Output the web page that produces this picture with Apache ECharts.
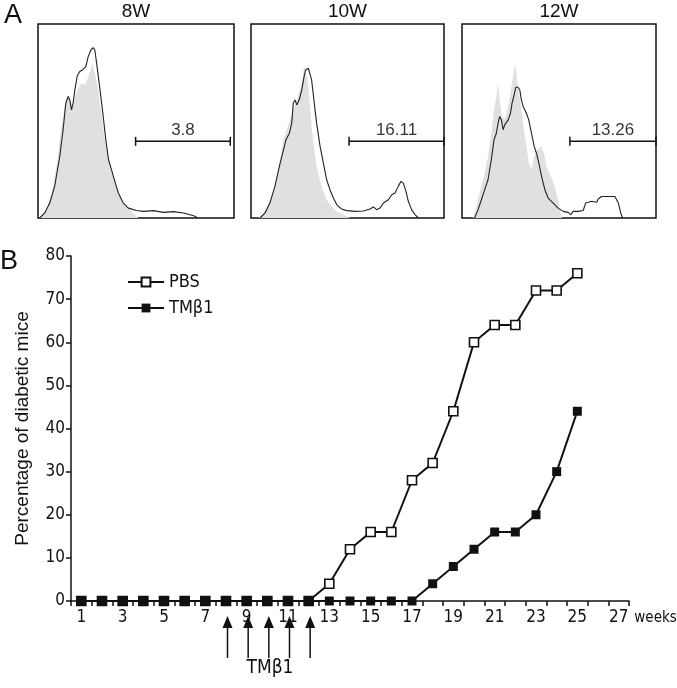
<!DOCTYPE html>
<html><head><meta charset="utf-8">
<script src="https://cdn.jsdelivr.net/npm/echarts@6/dist/echarts.min.js"></script>
<style>html,body{margin:0;padding:0;background:#fff}#c{width:677px;height:688px}</style>
</head><body><div id="c"></div>
<script>
// ---------- Panel B data ----------
const weeks = ['1','2','3','4','5','6','7','8','9','10','11','12','13','14','15','16','17','18','19','20','21','22','23','24','25','26','27'];
const pbs  = [0,0,0,0,0,0,0,0,0,0,0,0,4,12,16,16,28,32,44,60,64,64,72,72,76];
const tmb1 = [0,0,0,0,0,0,0,0,0,0,0,0,0,0,0,0,0,4,8,12,16,16,20,30,44];
const treatmentWeeks = ['8','9','10','11','12'];
const seriesNames = ['PBS','TMβ1'];

// ---------- Panel A data (relative intensity %, relative count %) ----------
const panelTitles = ['8W','10W','12W'];
const gateLabels = ['3.8','16.11','13.26'];
const gateStart = [49.8, 50.8, 55.6];
const gateEnd = [98.1, 100, 100];
const gateLevel = [39.5, 39.5, 39.5];

const hist8wSample = [[0.9,0],[3.4,2.6],[6.0,7.7],[8.5,16.3],[11.1,31.7],[12.8,45.5],[14.2,59.2],[15.4,62.6],[16.2,60.9],[17.1,55.7],[17.9,59.2],[18.8,66.0],[20.0,73.2],[21.3,75.5],[22.7,76.3],[23.5,75.5],[24.4,78.0],[25.6,83.2],[27.0,86.6],[28.2,87.8],[29.0,86.6],[29.9,79.8],[31.2,69.5],[32.9,55.7],[34.6,40.3],[36.0,30.0],[37.5,24.9],[39.2,18.9],[41.0,12.9],[43.5,7.7],[46.1,5.1],[50.3,3.9],[53.8,3.4],[58.9,3.8],[64.0,2.9],[69.1,3.3],[74.2,2.6],[77.6,1.7],[80.2,0.9],[81.1,0]];
const hist8wControl = [[0.9,0],[4.3,4.3],[7.7,16.3],[10.2,31.7],[11.9,47.2],[12.8,52.3],[14.2,60.9],[15.4,62.6],[16.2,60.0],[17.6,57.5],[18.8,62.6],[20.5,66.9],[22.2,69.5],[23.9,68.6],[25.1,71.2],[26.5,75.5],[27.8,79.8],[29.0,74.6],[30.4,67.8],[32.1,55.7],[33.6,43.7],[35.0,35.2],[36.7,28.3],[38.4,21.4],[40.4,14.6],[42.7,9.4],[45.2,6.0],[47.8,3.4],[49.5,1.7],[51.2,0]];
const hist10wSample = [[4.7,0],[7.3,2.6],[9.8,7.7],[12.4,16.3],[14.7,26.6],[16.4,33.4],[18.1,40.3],[19.9,43.7],[21.1,48.9],[21.9,59.2],[22.8,60.9],[23.7,58.3],[25.0,60.9],[26.3,66.0],[27.5,72.9],[28.3,76.3],[29.7,77.2],[30.6,76.3],[31.4,71.2],[32.6,60.9],[34.0,48.9],[35.8,36.9],[37.5,28.3],[39.2,19.7],[40.9,14.6],[42.7,10.3],[44.4,6.9],[47.0,4.6],[49.6,3.8],[53.9,3.4],[58.2,3.6],[61.7,4.6],[63.4,5.7],[65.1,4.3],[66.8,5.1],[68.6,7.7],[71.2,9.4],[72.9,12.0],[74.6,12.9],[76.3,16.3],[77.7,18.9],[78.9,18.0],[80.3,13.7],[81.5,8.6],[83.2,4.3],[85.0,1.7],[86.7,0]];
const hist10wControl = [[3.8,0],[6.4,2.6],[9.0,7.7],[11.6,14.6],[13.3,21.4],[15.0,30.0],[16.8,40.3],[18.5,45.5],[20.2,50.6],[21.9,55.7],[23.7,60.9],[25.4,66.0],[26.8,72.9],[27.6,78.9],[28.5,78.0],[29.4,71.2],[30.6,57.5],[31.4,47.2],[32.6,36.9],[34.0,26.6],[35.8,18.9],[37.5,13.7],[39.2,9.4],[41.8,6.0],[44.4,3.4],[47.8,1.7],[51.3,0]];
const hist12wSample = [[6.5,0],[8.3,4.3],[10.0,9.4],[11.7,14.6],[13.4,19.7],[15.1,30.0],[16.5,40.3],[17.7,43.7],[18.6,48.9],[19.4,52.3],[20.3,50.6],[21.2,45.5],[22.0,48.0],[22.9,47.2],[23.8,50.6],[25.0,54.0],[25.8,59.2],[26.9,63.5],[27.7,67.4],[28.9,67.4],[29.8,66.0],[30.6,60.9],[31.5,57.5],[32.4,56.6],[33.2,54.0],[34.4,50.6],[35.8,43.7],[37.2,36.9],[38.4,33.4],[39.6,28.3],[41.0,21.4],[42.7,14.6],[44.4,10.3],[47.0,7.7],[49.6,5.1],[52.2,3.4],[54.7,2.9],[56.1,1.7],[57.3,3.4],[59.9,3.4],[62.5,3.9],[63.7,7.7],[66.8,8.6],[69.4,8.1],[70.2,9.8],[71.9,11.1],[75.4,11.1],[78.8,11.1],[80.6,7.7],[81.8,2.6],[82.8,0]];
const hist12wControl = [[5.7,0],[7.4,6.0],[9.1,12.9],[11.7,23.2],[13.4,31.7],[15.1,43.7],[16.5,55.7],[17.7,62.6],[18.6,69.5],[19.4,60.9],[20.3,54.0],[21.7,50.6],[22.9,54.0],[24.1,59.2],[25.5,67.8],[26.5,74.6],[27.4,79.4],[28.2,72.9],[29.3,64.3],[30.6,55.7],[32.0,45.5],[33.2,36.9],[34.4,28.3],[35.8,24.9],[37.2,31.7],[38.9,35.2],[40.6,36.9],[41.5,37.7],[42.3,33.4],[43.5,26.6],[44.9,23.2],[46.5,19.7],[47.8,16.3],[49.1,11.1],[50.1,6.0],[50.9,1.7],[51.6,0]];

const samples = [hist8wSample, hist10wSample, hist12wSample];
const controls = [hist8wControl, hist10wControl, hist12wControl];

// ---------- layout / style ----------
const INK = '#111';
const SANS = "'Liberation Sans', Arial, sans-serif";
const NARROW = "'Liberation Sans Narrow','Arial Narrow','DejaVu Sans Condensed','Liberation Sans',Arial,sans-serif";
const panelBoxes = [
  {left:38, top:24, width:196, height:194},
  {left:251, top:24, width:193, height:194},
  {left:462, top:24, width:194, height:194}
];

const grids = panelBoxes.map(b => ({left:b.left, top:b.top, width:b.width, height:b.height,
  show:true, borderColor:INK, borderWidth:1.5, backgroundColor:'transparent', outerBoundsMode:'none'}));
grids.push({left:71, right:48, top:256, bottom:87, containLabel:false, outerBoundsMode:'none'});

const xAxes = [], yAxes = [], series = [];
panelBoxes.forEach((b, i) => {
  xAxes.push({type:'value', gridIndex:i, min:0, max:100, show:false});
  yAxes.push({type:'value', gridIndex:i, min:0, max:100, show:false});
  series.push({type:'line', xAxisIndex:i, yAxisIndex:i, data:controls[i], symbol:'none',
    lineStyle:{width:0, color:'#e0e0e0'}, areaStyle:{color:'#e0e0e0', opacity:1}, silent:true, z:1});
  series.push({type:'line', xAxisIndex:i, yAxisIndex:i, data:samples[i], symbol:'none',
    lineStyle:{width:1.1, color:'#222'}, silent:true, z:2});
  series.push({type:'line', xAxisIndex:i, yAxisIndex:i, silent:true, z:3,
    symbol:'rect', symbolSize:[1.5,9], itemStyle:{color:INK}, lineStyle:{color:INK, width:1.5},
    data:[[gateStart[i], gateLevel[i]], [gateEnd[i], gateLevel[i]]]});
  series.push({type:'scatter', xAxisIndex:i, yAxisIndex:i, silent:true, z:3, symbolSize:0,
    data:[[(gateStart[i]+gateEnd[i])/2, gateLevel[i]]],
    label:{show:true, position:'top', distance:3, formatter:gateLabels[i], fontSize:17, color:'#000', fontFamily:SANS}});
});

// panel B axes
xAxes.push({type:'category', gridIndex:3, data:weeks, boundaryGap:true,
  axisLine:{lineStyle:{color:INK, width:1.5}},
  axisTick:{show:true, interval:0, length:5, inside:false, lineStyle:{color:INK, width:1.5}},
  axisLabel:{interval:1, margin:8, fontSize:17, color:INK, fontFamily:NARROW},
  name:'weeks', nameLocation:'end', nameGap:1,
  nameTextStyle:{fontSize:15, color:INK, fontFamily:NARROW, align:'left', verticalAlign:'top', padding:[10,0,0,0]},
  splitLine:{show:false}});
yAxes.push({type:'value', gridIndex:3, min:0, max:80, interval:10,
  axisLine:{show:true, lineStyle:{color:INK, width:1.5}},
  axisTick:{show:true, length:5, lineStyle:{color:INK, width:1.5}},
  axisLabel:{margin:6, fontSize:17, color:INK, fontFamily:NARROW},
  splitLine:{show:false},
  name:'Percentage of diabetic mice', nameLocation:'middle', nameRotate:90, nameGap:39,
  nameTextStyle:{fontSize:19, color:INK, fontFamily:SANS}});

series.push({name:seriesNames[0], type:'line', xAxisIndex:3, yAxisIndex:3, data:pbs,
  symbol:'rect', symbolSize:9, showAllSymbol:true,
  itemStyle:{color:'#fff', borderColor:INK, borderWidth:1.6},
  lineStyle:{color:INK, width:2}, z:5});
series.push({name:seriesNames[1], type:'line', xAxisIndex:3, yAxisIndex:3, data:tmb1,
  symbol:'rect', symbolSize:9, showAllSymbol:true,
  itemStyle:{color:INK, borderColor:INK, borderWidth:0},
  lineStyle:{color:INK, width:2}, z:6});

// treatment arrows below the week axis
series.push({type:'custom', xAxisIndex:3, yAxisIndex:3, clip:false, silent:true, z:4,
  data:treatmentWeeks.map(w => [w, 0]), encode:{x:0, y:1},
  renderItem:function(params, api){
    const p = api.coord([api.value(0), 0]);
    const x = p[0] + 1.5, y0 = p[1];
    return {type:'group', children:[
      {type:'line', shape:{x1:x, y1:y0+57, x2:x, y2:y0+24}, style:{stroke:INK, lineWidth:1.5}},
      {type:'polygon', shape:{points:[[x, y0+15],[x-5, y0+27],[x+5, y0+27]]}, style:{fill:INK}}
    ]};
  }});

const centers = panelBoxes.map(b => b.left + b.width/2);
const graphics = panelTitles.map((t, i) => ({type:'text', x:centers[i], y:12,
  style:{text:t, fill:INK, font:'19px ' + SANS, align:'center', verticalAlign:'middle'}}));
graphics.push({type:'text', x:4, y:16, style:{text:'A', fill:INK, font:'27px ' + SANS, align:'left', verticalAlign:'middle'}});
graphics.push({type:'text', x:0, y:262, style:{text:'B', fill:INK, font:'27px ' + SANS, align:'left', verticalAlign:'middle'}});
graphics.push({type:'text', x:270, y:668, style:{text:'TMβ1', fill:INK, font:'19px ' + NARROW, align:'center', verticalAlign:'middle'}});

const chart = echarts.init(document.getElementById('c'), null, {renderer:'canvas'});
chart.setOption({
  animation:false,
  backgroundColor:'#fff',
  grid:grids, xAxis:xAxes, yAxis:yAxes, series:series,
  legend:{data:seriesNames, orient:'vertical', left:122, top:268, itemWidth:36, itemHeight:11, itemGap:8,
    textStyle:{fontSize:18, color:INK, fontFamily:NARROW}, selectedMode:false},
  graphic:graphics
});
</script></body></html>
